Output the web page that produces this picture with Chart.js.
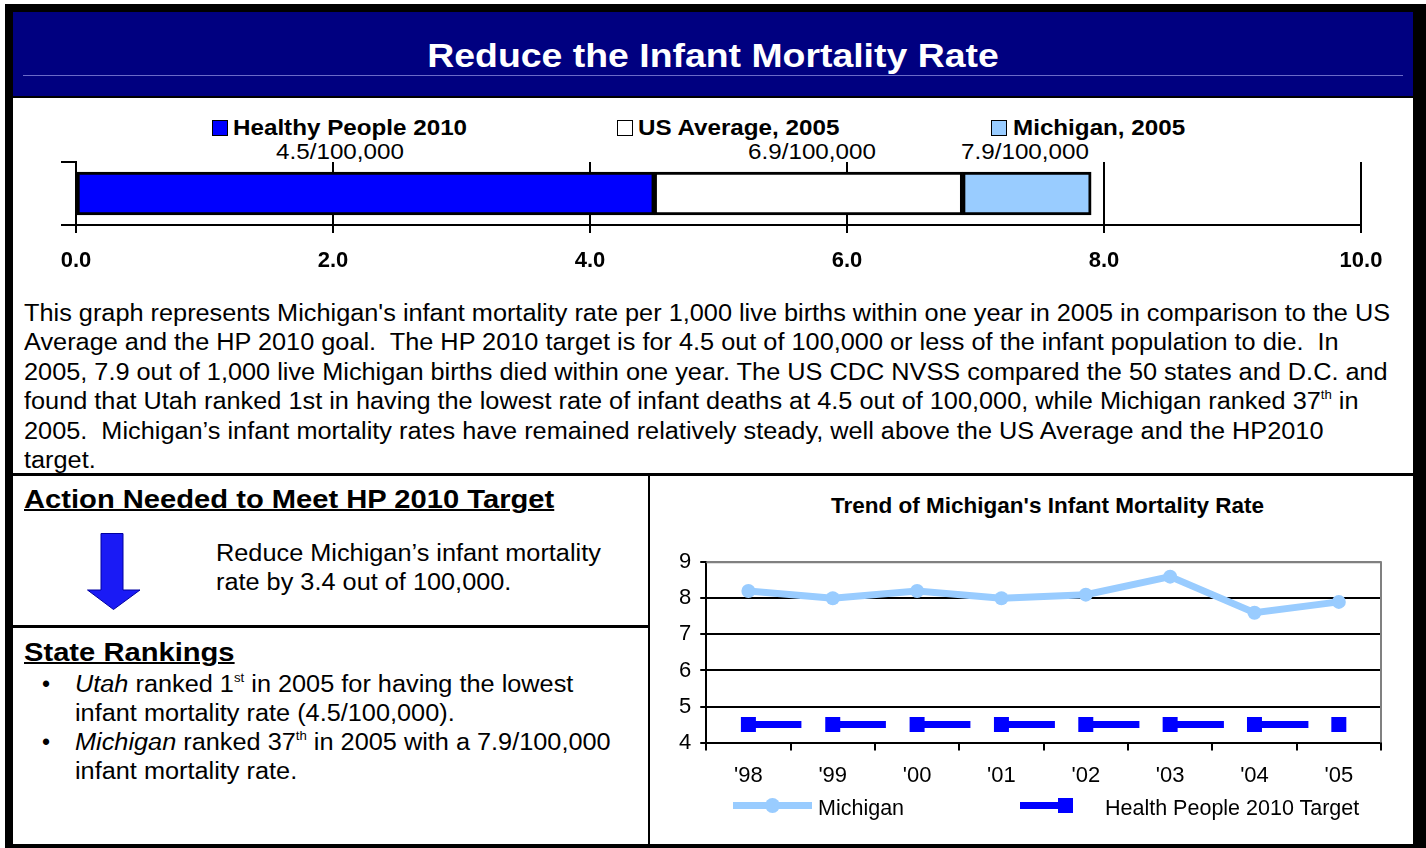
<!DOCTYPE html>
<html>
<head>
<meta charset="utf-8">
<script src="https://cdn.jsdelivr.net/npm/chart.js"></script>
<style>
  body{margin:0;width:1426px;height:848px;background:#fff;position:relative;overflow:hidden;font-family:"Liberation Sans",Arial,sans-serif;color:#000;}
  .abs{position:absolute;white-space:nowrap;}
  .sx{transform:scaleX(1.1);transform-origin:0 0;}
  .sxc{transform:scaleX(1.1);transform-origin:50% 0;}
  .frame{position:absolute;left:5px;top:4px;width:1421px;height:844px;background:#000;}
  .inner{position:absolute;left:13px;top:12px;width:1400px;height:832px;background:#fff;}
  .navy{position:absolute;left:13px;top:12px;width:1400px;height:84px;background:#000080;}
  .hl{position:absolute;background:#000;}
  .sq{position:absolute;width:14px;height:14px;border:1.5px solid #000;}
  sup{font-size:12px;line-height:0;vertical-align:10px;}
</style>
</head>
<body>
<div class="frame"></div>
<div class="inner"></div>
<div class="navy"></div>
<div class="hl" style="left:13px;top:96px;width:1400px;height:2px;"></div>
<div class="abs" style="left:23px;top:75px;width:1380px;height:1px;background:#6a6ac8;"></div>
<div class="abs sxc" style="left:13px;width:1400px;top:35px;line-height:40px;font-size:34px;font-weight:bold;color:#fff;text-align:center;">Reduce the Infant Mortality Rate</div>

<!-- top chart legend and labels -->
<div class="sq" style="left:212px;top:120px;background:#0000ff;"></div>
<div class="abs sx" style="left:233px;top:114px;line-height:28px;font-size:22px;font-weight:bold;" id="lg0"></div>
<div class="sq" style="left:617px;top:120px;background:#fff;"></div>
<div class="abs sx" style="left:638px;top:114px;line-height:28px;font-size:22px;font-weight:bold;" id="lg1"></div>
<div class="sq" style="left:991px;top:120px;background:#99ccff;"></div>
<div class="abs sx" style="left:1013px;top:114px;line-height:28px;font-size:22px;font-weight:bold;" id="lg2"></div>
<div class="abs sxc" style="left:240px;width:200px;text-align:center;top:139px;line-height:26px;font-size:22px;" id="dl0"></div>
<div class="abs sxc" style="left:712px;width:200px;text-align:center;top:139px;line-height:26px;font-size:22px;" id="dl1"></div>
<div class="abs sxc" style="left:925px;width:200px;text-align:center;top:139px;line-height:26px;font-size:22px;" id="dl2"></div>

<canvas id="grafico1" width="1380" height="145" style="position:absolute;left:30px;top:150px;"></canvas>

<div class="abs sx" style="left:24px;top:299px;line-height:29.4px;font-size:23px;">This graph represents Michigan's infant mortality rate per 1,000 live births within one year in 2005 in comparison to the US<br>Average and the HP 2010 goal.&nbsp; The HP 2010 target is for 4.5 out of 100,000 or less of the infant population to die.&nbsp; In<br>2005, 7.9 out of 1,000 live Michigan births died within one year. The US CDC NVSS compared the 50 states and D.C. and<br>found that Utah ranked 1st in having the lowest rate of infant deaths at 4.5 out of 100,000, while Michigan ranked 37<sup>th</sup> in<br>2005.&nbsp; Michigan’s infant mortality rates have remained relatively steady, well above the US Average and the HP2010<br>target.</div>

<div class="hl" style="left:13px;top:473px;width:1400px;height:3px;"></div>
<div class="hl" style="left:648px;top:476px;width:2px;height:368px;"></div>
<div class="hl" style="left:13px;top:625px;width:635px;height:3px;"></div>

<div class="abs sx" style="left:24px;top:483px;line-height:32px;font-size:26.5px;font-weight:bold;text-decoration:underline;text-decoration-thickness:2px;">Action Needed to Meet HP 2010 Target</div>
<svg class="abs" style="left:87px;top:533px;" width="54" height="78">
  <polygon points="14,0.5 36,0.5 36,57 53,57 26.5,76.5 0.5,57 14,57" fill="#1a1af5" stroke="#0000a0" stroke-width="1"/>
</svg>
<div class="abs sx" style="left:216px;top:539px;line-height:29px;font-size:23px;">Reduce Michigan’s infant mortality<br>rate by 3.4 out of 100,000.</div>

<div class="abs sx" style="left:24px;top:636px;line-height:32px;font-size:26.5px;font-weight:bold;text-decoration:underline;text-decoration-thickness:2px;">State Rankings</div>
<div class="abs" style="left:42px;top:670px;line-height:29px;font-size:23px;">•<br><br>•</div>
<div class="abs sx" style="left:75px;top:670px;line-height:29px;font-size:23px;"><i>Utah</i> ranked 1<sup>st</sup> in 2005 for having the lowest<br>infant mortality rate (4.5/100,000).<br><i>Michigan</i> ranked 37<sup>th</sup> in 2005 with a 7.9/100,000<br>infant mortality rate.</div>

<!-- trend chart -->
<div class="abs" style="left:650px;width:795px;text-align:center;top:493px;line-height:26px;font-size:22.5px;font-weight:bold;">Trend of Michigan's Infant Mortality Rate</div>
<canvas id="grafico2" width="755" height="266" style="position:absolute;left:655px;top:540px;"></canvas>
<div class="abs" style="left:733px;top:802px;width:79px;height:7px;background:#99ccff;"></div>
<div class="abs" style="left:765px;top:798px;width:15px;height:15px;border-radius:50%;background:#99ccff;"></div>
<div class="abs" style="left:818px;top:795px;line-height:26px;font-size:21.5px;" id="lg3"></div>
<div class="abs" style="left:1020px;top:802px;width:53px;height:7px;background:#0000ff;"></div>
<div class="abs" style="left:1058px;top:798px;width:15px;height:15px;background:#0000ff;"></div>
<div class="abs" style="left:1105px;top:795px;line-height:26px;font-size:21.5px;" id="lg4"></div>

<script>
// grafico 1 - barra apilada
const barLabels = ['Healthy People 2010', 'US Average, 2005', 'Michigan, 2005'];
const barValues = [4.5, 6.9, 7.9];
const barText = ['4.5/100,000', '6.9/100,000', '7.9/100,000'];
const barColors = ['#0000ff', '#ffffff', '#99ccff'];
const barTicks = [0, 2, 4, 6, 8, 10];

// grafico 2 - tendencia
const years = ["'98", "'99", "'00", "'01", "'02", "'03", "'04", "'05"];
const michigan = [8.2, 8.0, 8.2, 8.0, 8.1, 8.6, 7.6, 7.9];
const target = [4.5, 4.5, 4.5, 4.5, 4.5, 4.5, 4.5, 4.5];
const lineLabels = ['Michigan', 'Health People 2010 Target'];

barLabels.forEach((t, i) => { document.getElementById('lg' + i).textContent = t; });
barText.forEach((t, i) => { document.getElementById('dl' + i).textContent = t; });
document.getElementById('lg3').textContent = lineLabels[0];
document.getElementById('lg4').textContent = lineLabels[1];

Chart.defaults.font.family = '"Liberation Sans", Arial, sans-serif';
Chart.defaults.color = '#000';

let datos1 = {
    labels: ['2005'],
    datasets: barValues.map((v, i) => ({
        label: barLabels[i],
        data: [[i == 0 ? 0 : barValues[i - 1], v]],
        backgroundColor: barColors[i],
        borderColor: '#000',
        borderWidth: 3,
        borderSkipped: false,
        barThickness: 43,
        grouped: false
    }))
};
let G1 = new Chart(document.getElementById('grafico1').getContext('2d'), {
    type: 'bar',
    data: datos1,
    options: {
        indexAxis: 'y',
        responsive: false,
        animation: false,
        layout: { padding: { left: 31, top: 12, right: 49, bottom: 7 } },
        plugins: { legend: { display: false }, tooltip: { enabled: false } },
        scales: {
            x: {
                min: 0, max: 10,
                afterBuildTicks: s => { s.ticks = barTicks.map(v => ({ value: v })); },
                ticks: { callback: v => v.toFixed(1), font: { size: 22, weight: 'bold' }, padding: 15, maxRotation: 0 },
                grid: { color: '#000', lineWidth: 2, tickLength: 8, tickColor: '#000' },
                border: { display: true, color: '#000', width: 2 }
            },
            y: {
                ticks: { display: false },
                grid: { drawOnChartArea: false, color: '#000', lineWidth: 2, tickLength: 15, offset: true },
                border: { display: true, color: '#000', width: 2 }
            }
        }
    }
});

const plotFrame = {
    id: 'plotFrame',
    beforeDatasetsDraw(chart) {
        const a = chart.chartArea, ctx = chart.ctx;
        ctx.save();
        ctx.strokeStyle = '#808080';
        ctx.lineWidth = 2;
        ctx.beginPath();
        ctx.moveTo(a.left, a.top);
        ctx.lineTo(a.right, a.top);
        ctx.lineTo(a.right, a.bottom);
        ctx.stroke();
        ctx.restore();
    }
};

let G2 = new Chart(document.getElementById('grafico2').getContext('2d'), {
    type: 'line',
    data: {
        labels: years,
        datasets: [
            {
                label: lineLabels[0],
                data: michigan,
                borderColor: '#99ccff',
                backgroundColor: '#99ccff',
                borderWidth: 7,
                pointRadius: 7,
                pointBorderWidth: 0,
                tension: 0
            },
            {
                label: lineLabels[1],
                data: target,
                borderColor: '#0000ff',
                backgroundColor: '#0000ff',
                borderWidth: 7,
                borderDash: [53, 31.5],
                borderCapStyle: 'butt',
                pointStyle: 'rect',
                pointRadius: 10.6,
                pointBorderWidth: 0,
                tension: 0
            }
        ]
    },
    options: {
        responsive: false,
        animation: false,
        layout: { padding: { left: 15, top: 21, right: 29, bottom: 5 } },
        plugins: { legend: { display: false }, tooltip: { enabled: false } },
        scales: {
            x: {
                offset: true,
                ticks: { font: { size: 22 }, padding: 12, maxRotation: 0 },
                grid: { drawOnChartArea: false, offset: true, color: '#000', lineWidth: 2, tickLength: 8 },
                border: { display: true, color: '#000', width: 2 }
            },
            y: {
                min: 4, max: 9,
                ticks: { stepSize: 1, font: { size: 22 }, padding: 9 },
                grid: { color: c => c.tick && c.tick.value == 9 ? '#808080' : '#000', lineWidth: 2, tickLength: 6, tickColor: '#000' },
                border: { display: true, color: '#000', width: 2 }
            }
        }
    },
    plugins: [plotFrame]
});
</script>
</body>
</html>
